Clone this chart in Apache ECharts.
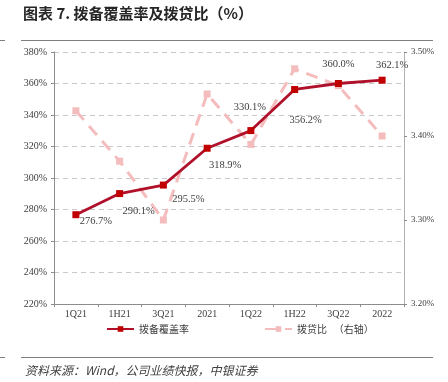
<!DOCTYPE html>
<html><head><meta charset="utf-8">
<script src="https://cdn.jsdelivr.net/npm/echarts@6/dist/echarts.min.js"></script>
<style>html,body{margin:0;padding:0;background:#fff}#c{width:448px;height:382px}</style>
</head><body><div id="c"></div>
<script>
const categories = ['1Q21','1H21','3Q21','2021','1Q22','1H22','3Q22','2022'];
const coverage = [276.7, 290.1, 295.5, 318.9, 330.1, 356.2, 360.0, 362.1];
const loanRatio = [3.43, 3.37, 3.30, 3.45, 3.39, 3.48, 3.46, 3.40];
const leftTicks = {min: 220, max: 380, interval: 20};
const rightTicks = {min: 3.2, max: 3.5, interval: 0.1};
const labelOffsets = [[20,7],[19,18],[25,14],[18,17],[-1,-23],[11,31],[0,-19],[10,-15]];

const serif = '"Liberation Serif","DejaVu Serif",serif';
const cjk = '"Noto Sans CJK SC","Noto Sans CJK JP",sans-serif';
const chart = echarts.init(document.getElementById('c'));
chart.setOption({
  animation: false,
  grid: {left: 54, right: 44, top: 52, bottom: 78},
  graphic: [
    {type:'text', left: 23, top: 6, style:{text:'图表 7. 拨备覆盖率及拨贷比（%）', font:'bold 15px '+cjk, fill:'#262626'}},
    {type:'line', shape:{x1:21,y1:40.5,x2:433,y2:40.5}, style:{stroke:'#7f7f7f', lineWidth:1}},
    {type:'line', shape:{x1:0,y1:40.5,x2:5,y2:40.5}, style:{stroke:'#7f7f7f', lineWidth:1}},
    {type:'line', shape:{x1:21,y1:357.5,x2:433,y2:357.5}, style:{stroke:'#7f7f7f', lineWidth:1}},
    {type:'line', shape:{x1:0,y1:357.5,x2:5,y2:357.5}, style:{stroke:'#7f7f7f', lineWidth:1}},
    {type:'text', left: 25, top: 364, style:{text:'资料来源：Wind，公司业绩快报，中银证券', font:'italic 12px '+cjk, fill:'#404040'}}
  ],
  legend: {
    bottom: 43, left: 101, itemWidth: 27, itemHeight: 7, itemGap: 75,
    textStyle: {fontFamily: cjk, fontSize: 10, color: '#404040'},
    data: [{name:'拨备覆盖率'},{name:'拨贷比   （右轴）'}]
  },
  xAxis: {
    type: 'category', data: categories, boundaryGap: true,
    axisLine: {lineStyle: {color: '#8c8c8c'}},
    axisTick: {show: true, inside: false, length: 3, lineStyle:{color:'#8c8c8c'}},
    axisLabel: {color: '#404040', fontFamily: serif, fontSize: 10, margin: 5}
  },
  yAxis: [
    {type:'value', min: leftTicks.min, max: leftTicks.max, interval: leftTicks.interval,
     axisLine:{show:true, lineStyle:{color:'#8c8c8c'}},
     axisTick:{show:true, length:3, lineStyle:{color:'#8c8c8c'}},
     axisLabel:{formatter:'{value}%', color:'#404040', fontFamily: serif, fontSize: 10, margin: 7},
     splitLine:{show:true, lineStyle:{color:'#c8c8c8', type:[5,4]}}},
    {type:'value', min: rightTicks.min, max: rightTicks.max, interval: rightTicks.interval,
     axisLine:{show:true, lineStyle:{color:'#b0b0b0'}},
     axisTick:{show:true, length:3, lineStyle:{color:'#8c8c8c'}},
     axisLabel:{formatter: v => v.toFixed(2)+'%', color:'#404040', fontFamily: serif, fontSize: 9, margin: 7},
     splitLine:{show:false}}
  ],
  series: [
    {name:'拨贷比   （右轴）', type:'line', yAxisIndex:1, data: loanRatio,
     symbol:'rect', symbolSize:7, z: 2,
     lineStyle:{color:'#f4bcbc', width:3, type:[12,8]},
     itemStyle:{color:'#f4bcbc'}},
    {name:'拨备覆盖率', type:'line', yAxisIndex:0, z: 3,
     data: coverage.map((v,i)=>({value:v, label:{offset: labelOffsets[i]}})),
     symbol:'rect', symbolSize:7,
     lineStyle:{color:'#b0102a', width:2.8},
     itemStyle:{color:'#c00000'},
     label:{show:true, position:'inside', formatter: p => p.value.toFixed(1)+'%',
            color:'#404040', fontFamily: serif, fontSize: 10.5}}
  ]
});
</script></body></html>
